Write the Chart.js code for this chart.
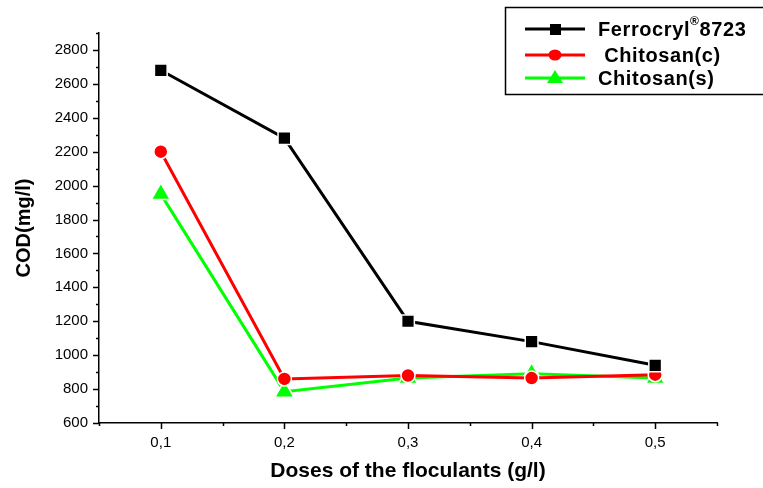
<!DOCTYPE html>
<html>
<head>
<meta charset="utf-8">
<script src="https://cdn.jsdelivr.net/npm/chart.js@4"></script>
<style>
  html, body { margin: 0; padding: 0; background: #fff; }
  #wrap { width: 763px; height: 488px; }
</style>
</head>
<body>
<div id="wrap"><canvas id="codChart" width="763" height="488"></canvas></div>
<script>
const doses = [0.1, 0.2, 0.3, 0.4, 0.5];
const ferrocryl = [2680, 2280, 1200, 1080, 940];
const chitosanC = [2200, 860, 880, 865, 885];
const chitosanS = [1950, 785, 865, 890, 865];

const FONT = '"Liberation Sans", Arial, sans-serif';

function toPoints(ys) {
  return doses.map((d, i) => ({ x: d, y: ys[i] }));
}

// outward tick marks, long on labelled values, short between
const tickMarks = {
  id: 'tickMarks',
  afterDraw(chart) {
    const ctx = chart.ctx;
    const x = chart.scales.x, y = chart.scales.y;
    ctx.save();
    ctx.strokeStyle = '#000';
    ctx.lineWidth = 1.5;
    ctx.beginPath();
    for (let v = 600; v <= 2900; v += 100) {
      const py = Math.round(y.getPixelForValue(v)) + 0.5;
      const len = v % 200 === 0 ? 6 : 3;
      ctx.moveTo(x.left - len, py);
      ctx.lineTo(x.left, py);
    }
    for (let i = 0; i <= 10; i++) {
      const v = 0.05 + i * 0.05;
      const px = Math.round(x.getPixelForValue(v)) + 0.5;
      const len = i % 2 === 1 ? 6 : 3;
      ctx.moveTo(px, y.bottom);
      ctx.lineTo(px, y.bottom + len);
    }
    ctx.stroke();
    ctx.restore();
  }
};

// boxed legend at top right
const boxLegend = {
  id: 'boxLegend',
  afterDraw(chart) {
    const ctx = chart.ctx;
    ctx.save();
    ctx.strokeStyle = '#000';
    ctx.lineWidth = 1.5;
    ctx.strokeRect(505.5, 7.5, 270, 87);
    const rows = [29, 55, 78];
    chart.data.datasets.forEach((ds, i) => {
      const ly = rows[i];
      ctx.strokeStyle = ds.borderColor;
      ctx.lineWidth = 3;
      ctx.beginPath();
      ctx.moveTo(525, ly);
      ctx.lineTo(585, ly);
      ctx.stroke();
      ctx.fillStyle = ds.borderColor;
      ctx.beginPath();
      if (ds.pointStyle === 'rect') {
        ctx.rect(550, ly - 5, 11, 11);
      } else if (ds.pointStyle === 'circle') {
        ctx.ellipse(555, ly, 6.5, 5.5, 0, 0, Math.PI * 2);
      } else {
        ctx.moveTo(555, ly - 8);
        ctx.lineTo(563, ly + 5);
        ctx.lineTo(547, ly + 5);
        ctx.closePath();
      }
      ctx.fill();
    });
    ctx.fillStyle = '#000';
    ctx.textBaseline = 'middle';
    ctx.letterSpacing = '0.6px';
    ctx.font = 'bold 20px ' + FONT;
    let tx = 598;
    ctx.fillText('Ferrocryl', tx, rows[0] + 1);
    tx += ctx.measureText('Ferrocryl').width;
    ctx.font = 'bold 12px ' + FONT;
    ctx.fillText('®', tx, rows[0] - 7);
    tx += ctx.measureText('®').width;
    ctx.font = 'bold 20px ' + FONT;
    ctx.fillText('8723', tx, rows[0] + 1);
    ctx.fillText(' Chitosan(c)', 598, rows[1] + 1);
    ctx.fillText('Chitosan(s)', 598, rows[2] + 1);
    ctx.restore();
  }
};

new Chart(document.querySelector('#codChart'), {
  type: 'scatter',
  data: {
    datasets: [
      {
        label: 'Ferrocryl®8723',
        data: toPoints(ferrocryl),
        borderColor: '#000000',
        backgroundColor: '#000000',
        pointStyle: 'rect',
        pointRadius: 9,
        pointBorderColor: '#ffffff',
        pointBorderWidth: 1.5,
        borderWidth: 3,
        showLine: true
      },
      {
        label: 'Chitosan(c)',
        data: toPoints(chitosanC),
        borderColor: '#ff0000',
        backgroundColor: '#ff0000',
        pointStyle: 'circle',
        pointRadius: 7,
        pointBorderColor: '#ffffff',
        pointBorderWidth: 1.5,
        borderWidth: 3,
        showLine: true
      },
      {
        label: 'Chitosan(s)',
        data: toPoints(chitosanS),
        borderColor: '#00ff00',
        backgroundColor: '#00ff00',
        pointStyle: 'triangle',
        pointRadius: 11,
        pointBorderColor: '#ffffff',
        pointBorderWidth: 1.5,
        borderWidth: 3,
        showLine: true
      }
    ]
  },
  options: {
    responsive: false,
    animation: false,
    layout: { padding: { left: 8, top: 33, right: 46, bottom: 0 } },
    plugins: {
      legend: { display: false },
      tooltip: { enabled: false }
    },
    scales: {
      x: {
        type: 'linear',
        min: 0.05,
        max: 0.55,
        afterFit: s => { s.height = 65; },
        grid: { display: false, drawTicks: false },
        border: { display: true, color: '#000', width: 1.5 },
        ticks: {
          stepSize: 0.05,
          padding: 11,
          color: '#000',
          font: { family: FONT, size: 15 },
          autoSkip: false,
          maxRotation: 0,
          callback: v => {
            const k = Math.round(v * 100);
            return k % 10 === 0 ? (k / 100).toFixed(1).replace('.', ',') : '';
          }
        },
        title: {
          display: true,
          text: 'Doses of the floculants (g/l)',
          color: '#000',
          font: { family: FONT, size: 21, weight: 'bold' },
          padding: { top: 1 }
        }
      },
      y: {
        min: 600,
        max: 2900,
        afterFit: s => { s.width = 91; },
        grid: { display: false, drawTicks: false },
        border: { display: true, color: '#000', width: 1.5 },
        ticks: {
          stepSize: 100,
          padding: 11,
          color: '#000',
          font: { family: FONT, size: 15 },
          autoSkip: false,
          callback: v => (v % 200 === 0 ? v : '')
        },
        title: {
          display: true,
          text: 'COD(mg/l)',
          color: '#000',
          font: { family: FONT, size: 20, weight: 'bold' },
          padding: { bottom: 4 }
        }
      }
    }
  },
  plugins: [tickMarks, boxLegend]
});
</script>
</body>
</html>
